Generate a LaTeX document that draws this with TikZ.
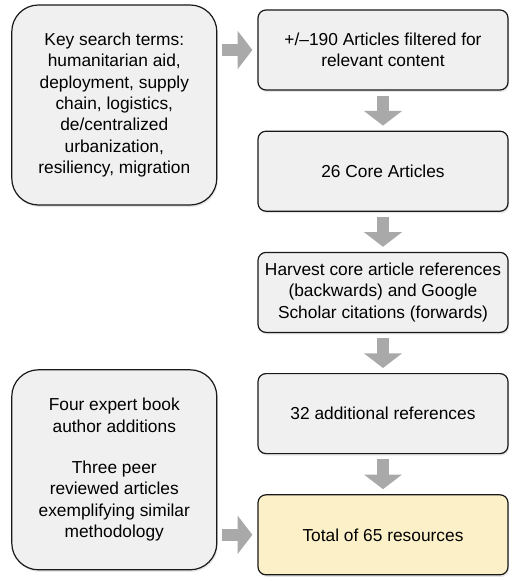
\documentclass[tikz,border=0pt]{standalone}
\usepackage{fontspec}
\setmainfont{Liberation Sans}
\usetikzlibrary{positioning,shadows,arrows.meta}
\definecolor{boxgray}{HTML}{F0F0F0}
\definecolor{boxyellow}{HTML}{FCF0C9}
\definecolor{arrowgray}{HTML}{A9A9A9}
\begin{document}
\begin{tikzpicture}[node distance=30pt,
    stage/.style={rectangle, draw=black!90, line width=0.9pt, rounded corners=6pt, fill=boxgray,
        minimum width=187.5pt, minimum height=60pt, align=center,
        font=\fontsize{13}{16}\selectfont,
        drop shadow={opacity=0.2, shadow xshift=0.8pt, shadow yshift=-1.5pt}},
    source/.style={stage, rounded corners=20pt, minimum width=153.75pt, minimum height=150pt},
    flow/.style={-{Triangle[width=28pt,length=11pt]}, line width=9pt, draw=arrowgray,
        shorten <=3.75pt, shorten >=3.75pt}]
    \useasboundingbox (-287.25pt,37.5pt) rectangle (102.75pt,-398.25pt);

    % Nodes
    \node (filtered) [stage] {+/–190 Articles filtered for\\relevant content};
    \node (core) [stage, below=of filtered] {26 Core Articles};
    \node (harvest) [stage, below=of core] {Harvest core article references\\(backwards) and Google\\Scholar citations (forwards)};
    \node (additional) [stage, below=of harvest] {32 additional references};
    \node (total) [stage, fill=boxyellow, below=of additional] {Total of 65 resources};
    \node (terms) [source, anchor=north east] at ([xshift=-30pt, yshift=3.75pt]filtered.north west)
        {Key search terms:\\humanitarian aid,\\deployment, supply\\chain, logistics,\\de/centralized\\urbanization,\\resiliency, migration};
    \node (extra) [source, anchor=south east] at ([xshift=-30pt, yshift=3.75pt]total.south west)
        {Four expert book\\author additions\\[15pt]Three peer\\reviewed articles\\exemplifying similar\\methodology};

    % Arrows
    \draw[flow] (terms.east |- filtered) -- (filtered);
    \draw[flow] (filtered) -- (core);
    \draw[flow] (core) -- (harvest);
    \draw[flow] (harvest) -- (additional);
    \draw[flow] (additional) -- (total);
    \draw[flow] (extra.east |- total) -- (total);
\end{tikzpicture}
\end{document}
